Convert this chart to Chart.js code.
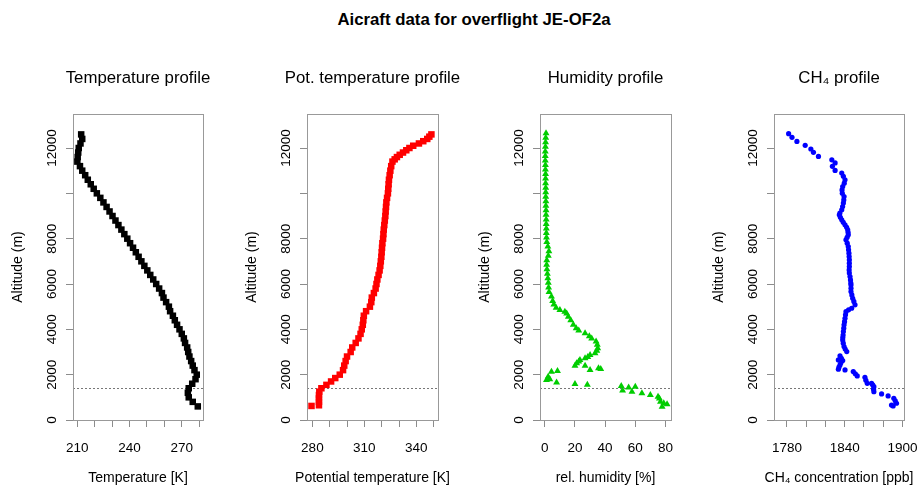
<!DOCTYPE html>
<html>
<head>
<meta charset="utf-8">
<title>Aircraft profiles JE-OF2a</title>
<script src="https://cdn.jsdelivr.net/npm/chart.js@4"></script>
<style>
  body { margin: 0; background: #fff; width: 917px; height: 488px; position: relative; overflow: hidden;
         font-family: "Liberation Sans", Arial, sans-serif; }
  #mainTitle { position: absolute; left: 474px; top: 10px; transform: translateX(-50%); white-space: nowrap;
               font-weight: bold; font-size: 16.8px; line-height: 20px; color: #000; }
  canvas { position: absolute; top: 0; }
</style>
</head>
<body>
<div id="mainTitle">Aicraft data for overflight JE-OF2a</div>
<canvas id="tempChart" width="276" height="488" style="left:0px"></canvas>
<canvas id="thetaChart" width="277" height="488" style="left:234px"></canvas>
<canvas id="humChart" width="277" height="488" style="left:467px"></canvas>
<canvas id="ch4Chart" width="276" height="488" style="left:701px"></canvas>
<script>
// ---- data ----
const altitudeTicks = [0, 2000, 4000, 6000, 8000, 10000, 12000];
const altitudeLabels = [0, 2000, 4000, 6000, 8000, 12000]; // 10000 is not printed
const boundaryLayerHeight = 1430; // dotted line (m)

// Temperature profile
const tempAltitude = [600, 800, 1000, 1200, 1400, 1600, 1800, 2000, 2200, 2400, 2600, 2800, 3000, 3200, 3400,
  3600, 3800, 4000, 4200, 4400, 4600, 4800, 5000, 5200, 5400, 5600, 5800, 6000, 6200, 6400, 6600, 6800, 7000,
  7200, 7400, 7600, 7800, 8000, 8200, 8400, 8600, 8800, 9000, 9200, 9400, 9600, 9800, 10000, 10200, 10400,
  10600, 10800, 11000, 11200, 11400, 11600, 11800, 12000, 12200, 12400, 12600];
const tempKelvin = [279.2, 276.3, 274.0, 273.5, 274.0, 276.0, 277.9, 278.6, 277.3, 276.3, 275.4, 274.4, 273.7,
  273.1, 271.9, 271.2, 270.0, 268.7, 267.3, 266.0, 264.9, 263.3, 262.6, 261.0, 259.5, 258.6, 257.0, 255.3,
  253.6, 251.9, 250.2, 248.5, 246.8, 245.2, 243.6, 242.0, 240.3, 238.7, 237.0, 235.3, 233.6, 231.9, 230.2,
  228.5, 226.8, 225.0, 223.2, 221.2, 219.4, 217.7, 216.0, 214.5, 212.8, 211.5, 210.0, 210.2, 210.5, 210.8,
  211.8, 212.8, 212.2];
const tempTicks = [210, 220, 230, 240, 250, 260, 270, 280];
const tempLabels = [210, 240, 270];

// Potential temperature profile
const thetaAltitude = [620, 650, 800, 950, 1100, 1250, 1400, 1550, 1700, 1850, 2000, 2200, 2400, 2600, 2800,
  3000, 3200, 3400, 3600, 3800, 4000, 4200, 4400, 4600, 4800, 5000, 5200, 5400, 5600, 5800, 6000, 6200, 6400,
  6600, 6800, 7000, 7200, 7400, 7600, 7800, 8000, 8200, 8400, 8600, 8800, 9000, 9200, 9400, 9600, 9800,
  10000, 10200, 10400, 10600, 10800, 11000, 11200, 11400, 11500, 11600, 11700, 11800, 11900, 12000, 12100,
  12200, 12300, 12400, 12500, 12600];
const thetaKelvin = [279.5, 283.8, 283.8, 283.8, 283.8, 284.0, 285.2, 288.1, 290.8, 293.2, 295.8, 297.7, 298.4,
  299.2, 300.0, 302.1, 303.0, 305.0, 306.6, 307.8, 308.5, 309.1, 309.4, 309.7, 311.0, 313.2, 314.0, 314.3,
  315.5, 316.5, 317.0, 317.5, 318.2, 318.8, 319.2, 319.5, 319.8, 320.0, 320.2, 320.4, 320.8, 321.0, 321.2,
  321.5, 321.8, 322.1, 322.3, 322.5, 322.7, 323.1, 323.6, 323.8, 324.0, 324.2, 324.6, 325.0, 325.5, 326.2,
  327.5, 328.8, 330.4, 332.3, 334.2, 336.0, 338.2, 341.5, 344.0, 346.3, 347.5, 348.7];
const thetaTicks = [280, 290, 300, 310, 320, 330, 340, 350];
const thetaLabels = [280, 310, 340];

// Relative humidity profile
const humAltitude = [12650, 12450, 12250, 12050, 11850, 11650, 11450, 11250, 11050, 10850, 10650, 10450, 10250,
  10050, 9850, 9650, 9450, 9250, 9050, 8850, 8650, 8450, 8250, 8050, 7850, 7650, 7450, 7250, 7050, 6850, 6650,
  6450, 6250, 6050, 5850, 5650, 5450, 5250, 5100, 4950, 4850, 4780, 4700, 4560, 4400, 4200, 4050, 3950, 3830,
  3700, 3600, 3460, 3320, 3170, 3050, 2950, 2870, 2780, 2720, 2650, 2580, 2500, 2390, 2390, 2280, 2250, 2210,
  2160, 2130, 1910, 1800, 1770, 1650, 1590, 1550, 1500, 1470, 1430, 1300, 1250, 1180, 1100, 1030, 950, 810,
  740, 690, 590];
const humPercent = [0.8, 0.6, 0.5, 0.4, 0.3, 0.3, 0.3, 0.4, 0.4, 0.5, 0.5, 0.5, 0.6, 0.6, 0.6, 0.7, 0.7, 0.8,
  0.8, 0.9, 0.9, 1.0, 1.0, 1.1, 1.3, 2.0, 2.7, 2.3, 1.3, 1.2, 1.4, 1.7, 2.0, 2.3, 2.5, 2.8, 4.4, 5.2, 6.0, 7.5,
  10.0, 13.3, 14.5, 15.6, 17.2, 18.9, 20.8, 22.5, 26.7, 29.5, 31.1, 34.0, 34.8, 35.1, 34.5, 33.3, 30.0, 28.5,
  26.7, 23.3, 22.5, 21.1, 20.0, 26.7, 35.6, 37.1, 30.0, 8.4, 4.4, 2.2, 3.3, 1.1, 7.8, 20.0, 28.2, 50.7, 60.0,
  55.6, 51.6, 57.8, 64.4, 70.0, 75.1, 76.0, 76.7, 78.9, 81.1, 77.8];
const humTicks = [0, 20, 40, 60, 80];
const humLabels = [0, 20, 40, 60, 80];

// CH4 profile
const ch4Altitude = [12630, 12470, 12290, 12120, 11955, 11810, 11630, 11480, 11340, 11190, 11010, 10895, 10750,
  10600, 10450, 10300, 10150, 10000, 9860, 9710, 9570, 9420, 9275, 9130, 9050, 8940, 8830, 8720, 8610, 8500,
  8390, 8280, 8170, 8060, 7950, 7800, 7655, 7510, 7360, 7210, 7070, 6920, 6770, 6620, 6480, 6330, 6180, 6040,
  5960, 5810, 5670, 5520, 5370, 5230, 5080, 4930, 4860, 4780, 4640, 4490, 4340, 4200, 4050, 3900, 3750, 3640,
  3530, 3390, 3240, 3130, 3020, 2830, 2720, 2650, 2620, 2530, 2430, 2330, 2240, 2210, 2135, 2040, 1945, 1885,
  1750, 1620, 1620, 1550, 1470, 1360, 1250, 1150, 1060, 960, 850, 740, 660, 620];
const ch4Ppb = [1781.7, 1785.2, 1790.3, 1798.9, 1804.8, 1807.5, 1812.7, 1826.6, 1830.0, 1827.2, 1830.0, 1836.9,
  1838.6, 1840.3, 1839.5, 1837.9, 1837.2, 1837.5, 1839.3, 1839.0, 1838.6, 1837.8, 1836.9, 1835.0, 1834.4,
  1835.5, 1836.9, 1838.5, 1840.3, 1842.0, 1843.1, 1843.5, 1843.7, 1842.5, 1841.3, 1842.6, 1843.7, 1844.0,
  1844.4, 1844.6, 1844.8, 1844.8, 1844.8, 1844.6, 1844.8, 1845.5, 1846.0, 1846.3, 1846.5, 1846.5, 1846.5,
  1847.4, 1848.3, 1849.5, 1850.7, 1847.2, 1844.0, 1841.3, 1840.8, 1840.3, 1839.8, 1839.3, 1839.0, 1838.6,
  1838.3, 1838.0, 1837.9, 1838.5, 1839.3, 1840.5, 1842.1, 1835.1, 1836.5, 1833.4, 1837.9, 1836.0, 1835.1,
  1834.0, 1833.4, 1840.3, 1848.9, 1851.0, 1853.0, 1861.0, 1862.0, 1863.4, 1867.9, 1869.0, 1870.3, 1870.0,
  1870.3, 1878.3, 1885.1, 1891.0, 1892.5, 1893.8, 1888.6, 1890.3];
const ch4Ticks = [1780, 1800, 1820, 1840, 1860, 1880, 1900];
const ch4Labels = [1780, 1840, 1900];

// ---- drawing ----
Chart.defaults.font.family = '"Liberation Sans", Arial, sans-serif';
Chart.defaults.color = '#000';

const AXIS_GREY = '#8c8c8c';

// frame round the plotting region, like R's box()
const boxPlugin = {
  id: 'plotBox',
  afterDraw(chart) {
    const {ctx, chartArea: a} = chart;
    ctx.save();
    ctx.strokeStyle = '#999';
    ctx.lineWidth = 1;
    ctx.strokeRect(Math.round(a.left) + 0.5, Math.round(a.top) + 0.5,
                   Math.round(a.right - a.left), Math.round(a.bottom - a.top));
    ctx.restore();
  }
};

// dotted boundary layer line
const boundaryPlugin = {
  id: 'boundaryLine',
  beforeDatasetsDraw(chart) {
    const {ctx, chartArea: a, scales} = chart;
    const y = Math.round(scales.y.getPixelForValue(boundaryLayerHeight)) + 0.5;
    ctx.save();
    ctx.strokeStyle = '#777';
    ctx.lineWidth = 1;
    ctx.setLineDash([2, 2]);
    ctx.beginPath();
    ctx.moveTo(a.left, y);
    ctx.lineTo(a.right, y);
    ctx.stroke();
    ctx.restore();
  }
};

// panel title and x caption, centred on the plot box like R does
// (Chart.js would squeeze them to the box width or centre them on the canvas)
const captionPlugin = {
  id: 'panelText',
  afterDraw(chart, args, opts) {
    const {ctx, chartArea: a} = chart;
    const cx = (a.left + a.right) / 2;
    ctx.save();
    ctx.fillStyle = '#000';
    ctx.textAlign = 'center';
    ctx.textBaseline = 'middle';
    ctx.font = '16.8px "Liberation Sans", Arial, sans-serif';
    ctx.fillText(opts.title, cx, a.top - 36);
    ctx.font = '14px "Liberation Sans", Arial, sans-serif';
    ctx.fillText(opts.xTitle, cx, a.bottom + 58);
    ctx.restore();
  }
};

function toPoints(xs, ys) {
  return xs.map((x, i) => ({x: x, y: ys[i]}));
}

function makeProfile(canvasId, p) {
  const ctx = document.getElementById(canvasId).getContext('2d');
  return new Chart(ctx, {
    type: 'scatter',
    data: {
      datasets: [{
        data: toPoints(p.values, p.altitude),
        pointStyle: p.pointStyle,
        pointRadius: p.radius,
        pointBackgroundColor: p.color,
        pointBorderColor: p.color,
        pointBorderWidth: 0
      }]
    },
    options: {
      responsive: false,
      animation: false,
      devicePixelRatio: 1,
      layout: { padding: { left: 0, right: 73, top: 114, bottom: 0 } },
      plugins: {
        legend: { display: false },
        tooltip: { enabled: false },
        title: { display: false },
        panelText: { title: p.title, xTitle: p.xTitle }
      },
      scales: {
        x: {
          type: 'linear',
          min: p.xMin,
          max: p.xMax,
          afterBuildTicks: s => { s.ticks = p.ticks.map(v => ({value: v})); },
          afterFit: s => { s.height = 68; },
          grid: { drawOnChartArea: false, tickLength: 7, color: AXIS_GREY },
          border: { display: false },
          ticks: {
            font: { size: 13.5 },
            color: '#000',
            padding: 13,
            maxRotation: 0,
            autoSkip: false,
            callback: v => p.labels.includes(v) ? String(v) : ''
          }
        },
        y: {
          type: 'linear',
          min: 0,
          max: 13500,
          afterBuildTicks: s => { s.ticks = altitudeTicks.map(v => ({value: v})); },
          afterFit: s => { s.width = 73; },
          grid: { drawOnChartArea: false, tickLength: 7, color: AXIS_GREY },
          border: { display: false },
          ticks: {
            font: { size: 13.5 },
            color: '#000',
            minRotation: 90,
            maxRotation: 90,
            crossAlign: 'center',
            padding: -5,
            autoSkip: false,
            callback: v => altitudeLabels.includes(v) ? String(v) : ''
          },
          title: {
            display: true,
            text: 'Altitude (m)',
            font: { size: 14 },
            color: '#000',
            padding: { top: 9.6, bottom: 0 }
          }
        }
      }
    },
    plugins: [boundaryPlugin, boxPlugin, captionPlugin]
  });
}

document.addEventListener('DOMContentLoaded', function() {
  makeProfile('tempChart', {
    title: 'Temperature profile', xTitle: 'Temperature [K]',
    values: tempKelvin, altitude: tempAltitude, color: '#000000',
    pointStyle: 'rect', radius: 4.6,
    xMin: 207.5, xMax: 282.2, ticks: tempTicks, labels: tempLabels
  });
  makeProfile('thetaChart', {
    title: 'Pot. temperature profile', xTitle: 'Potential temperature [K]',
    values: thetaKelvin, altitude: thetaAltitude, color: '#ff0000',
    pointStyle: 'rect', radius: 4.6,
    xMin: 276.9, xMax: 352.5, ticks: thetaTicks, labels: thetaLabels
  });
  makeProfile('humChart', {
    title: 'Humidity profile', xTitle: 'rel. humidity [%]',
    values: humPercent, altitude: humAltitude, color: '#00cd00',
    pointStyle: 'triangle', radius: 4,
    xMin: -3.2, xMax: 83.7, ticks: humTicks, labels: humLabels
  });
  makeProfile('ch4Chart', {
    title: 'CH\u2084 profile', xTitle: 'CH\u2084 concentration [ppb]',
    values: ch4Ppb, altitude: ch4Altitude, color: '#0000ff',
    pointStyle: 'circle', radius: 2.6,
    xMin: 1766.5, xMax: 1901.6, ticks: ch4Ticks, labels: ch4Labels
  });
});
</script>
</body>
</html>
